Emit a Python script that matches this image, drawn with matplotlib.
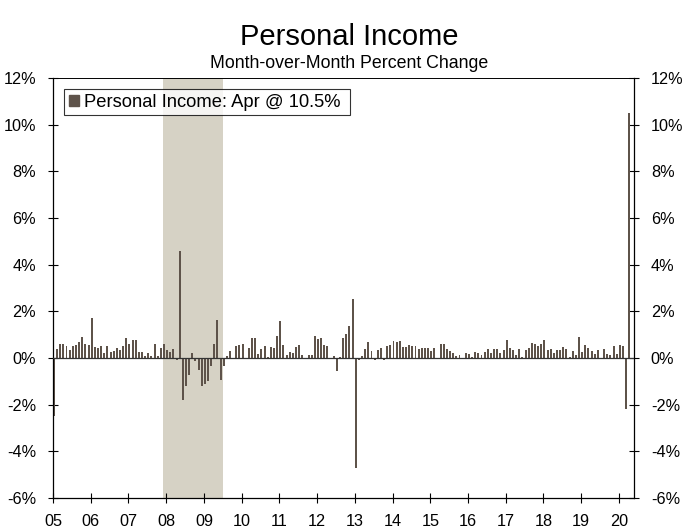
import numpy as np
import matplotlib
matplotlib.use('Agg')
import matplotlib.pyplot as plt
from matplotlib.patches import Patch

plt.rcParams['font.family'] = ['Liberation Sans', 'DejaVu Sans']

# monthly % change, Jan 2005 .. Apr 2020
y2005 = [-2.5, 0.39, 0.61, 0.6, 0.5, 0.36, 0.53, 0.56, 0.67, 0.9, 0.6, 0.56]
y2006 = [1.71, 0.47, 0.41, 0.5, 0.21, 0.5, 0.27, 0.3, 0.41, 0.36, 0.53, 0.87]
y2007 = [0.61, 0.79, 0.76, 0.24, 0.24, 0.07, 0.21, 0.1, 0.58, 0.1, 0.43, 0.6]
y2008 = [0.36, 0.27, 0.39, -0.1, 4.6, -1.81, -1.21, -0.71, 0.2, -0.14, -0.53, -1.21]
y2009 = [-1.1, -1.0, -0.36, 0.6, 1.63, -0.96, -0.36, 0.09, 0.31, -0.04, 0.51, 0.56]
y2010 = [0.61, -0.04, 0.44, 0.86, 0.86, 0.17, 0.39, 0.51, 0.04, 0.47, 0.41, 0.93]
y2011 = [1.59, 0.56, 0.13, 0.24, 0.21, 0.47, 0.56, 0.13, -0.03, 0.13, 0.13, 0.96]
y2012 = [0.81, 0.87, 0.56, 0.51, -0.03, 0.07, -0.57, 0.04, 0.87, 1.04, 1.39, 2.54]
y2013 = [-4.73, -0.07, 0.1, 0.39, 0.67, 0.32, -0.07, 0.35, 0.41, -0.07, 0.5, 0.54]
y2014 = [0.71, 0.67, 0.71, 0.47, 0.47, 0.57, 0.5, 0.5, 0.37, 0.43, 0.43, 0.43]
y2015 = [0.3, 0.43, 0.02, 0.6, 0.6, 0.4, 0.3, 0.2, 0.1, 0.13, -0.06, 0.23]
y2016 = [0.16, 0.03, 0.26, 0.23, 0.13, 0.26, 0.37, 0.22, 0.4, 0.37, 0.21, 0.36]
y2017 = [0.79, 0.41, 0.36, 0.14, 0.39, 0.04, 0.36, 0.41, 0.63, 0.6, 0.53, 0.59]
y2018 = [0.76, 0.36, 0.39, 0.21, 0.36, 0.36, 0.46, 0.39, 0.04, 0.29, 0.14, 0.91]
y2019 = [0.24, 0.56, 0.41, 0.31, 0.19, 0.36, 0.02, 0.39, 0.19, 0.14, 0.51, 0.19]
y2020 = [0.56, 0.53, -2.17, 10.5]

values = (y2005 + y2006 + y2007 + y2008 + y2009 + y2010 + y2011 + y2012 +
          y2013 + y2014 + y2015 + y2016 + y2017 + y2018 + y2019 + y2020)

year_labels = ['05', '06', '07', '08', '09', '10', '11', '12', '13', '14',
               '15', '16', '17', '18', '19', '20']
yticks = [-6, -4, -2, 0, 2, 4, 6, 8, 10, 12]
ytick_labels = ['-6%', '-4%', '-2%', '0%', '2%', '4%', '6%', '8%', '10%', '12%']
# recession Dec 2007 - Jun 2009 (months since Jan 2005)
rec_start, rec_end = 35, 54

bar_color = '#5e534a'
shade_color = '#d6d2c5'

fig = plt.figure(figsize=(6.83, 5.31), dpi=100, facecolor='white')
ax = fig.add_axes([53/683, 1-498/531, 581/683, 420/531])

x = np.arange(len(values)) + 0.3
ax.axvspan(rec_start, rec_end, color=shade_color, lw=0, zorder=0)
ax.bar(x, values, width=0.62, color=bar_color, lw=0, zorder=2)
ax.axhline(0, color='#333333', lw=0.9, zorder=3)

ax.set_xlim(0, 184.8)
ax.set_ylim(-6, 12)

ax.set_xticks(np.arange(len(year_labels)) * 12)
ax.set_xticklabels(year_labels)
ax.set_yticks(yticks)
ax.set_yticklabels(ytick_labels)

ax.tick_params(axis='x', direction='inout', length=7.2, width=0.8,
               labelsize=11.7, pad=8)
ax.tick_params(axis='y', direction='inout', length=7.2, width=0.8,
               labelsize=11.7, pad=8.5, right=True, labelright=True)
ax.get_xticklabels()[0].set_x(0)
for s in ax.spines.values():
    s.set_linewidth(0.9)
    s.set_color('black')
ax.spines['top'].set_linewidth(0.7)

leg = ax.legend(handles=[Patch(color=bar_color, label='Personal Income: Apr @ 10.5% ')],
                loc='upper left', bbox_to_anchor=(11/581, 1-11/420), borderaxespad=0,
                fontsize=13.2, frameon=True, fancybox=False, edgecolor='black',
                handlelength=0.55, handleheight=0.55, handletextpad=0.3,
                borderpad=0.25)
leg.get_frame().set_linewidth(0.8)
leg.set_zorder(5)

fig.text(349/683, 1-45/531, 'Personal Income', ha='center', va='baseline', fontsize=21)
fig.text(349/683, 1-67.7/531, 'Month-over-Month Percent Change', ha='center',
         va='baseline', fontsize=12.8)

fig.savefig('out.png', dpi=100, facecolor='white')
